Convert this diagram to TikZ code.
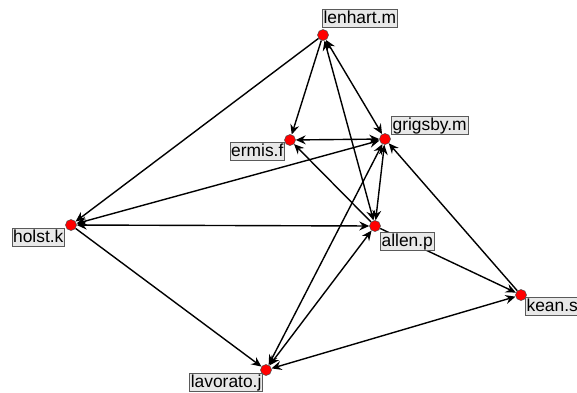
\documentclass[tikz,border=0pt]{standalone}
\usepackage{fontspec}
\setmainfont{Liberation Sans}
\usetikzlibrary{arrows.meta}
\definecolor{lblfill}{RGB}{232,232,232}
\definecolor{lbldraw}{RGB}{90,90,90}
\tikzset{
  dot/.style={circle, fill=red, draw=black!70, line width=0.5pt, inner sep=0pt, minimum size=11pt},
  lbl/.style={draw=lbldraw, fill=lblfill, line width=0.8pt, inner xsep=1.2pt, inner ysep=0.8pt,
    text height=12.8pt, text depth=3.6pt, font=\fontsize{17.4}{19}\selectfont},
  one/.style={line width=1.4pt, -{Stealth[length=10pt,width=9pt,inset=3.5pt]}},
  two/.style={line width=1.4pt, {Stealth[length=10pt,width=9pt,inset=3.5pt]}-{Stealth[length=10pt,width=9pt,inset=3.5pt]}}
}
\begin{document}
\begin{tikzpicture}[x=1pt,y=-1pt]
\useasboundingbox (0,0) rectangle (577,392);
\clip (0,0) rectangle (577,392);
\node[dot] (len) at (323,35) {};
\node[dot] (erm) at (290,140) {};
\node[dot] (gri) at (385,139) {};
\node[dot] (hol) at (71,225) {};
\node[dot] (all) at (375,226) {};
\node[dot] (kea) at (521,295) {};
\node[dot] (lav) at (266,370) {};
\draw[one] (len) -- (hol);
\draw[one] (len) -- (erm);
\draw[two] (len) -- (gri);
\draw[two] (len) -- (all);
\draw[two] (erm) -- (gri);
\draw[one] (all) -- (erm);
\draw[two] (hol) -- (gri);
\draw[two] (hol) -- (all);
\draw[one] (hol) -- (lav);
\draw[two] (gri) -- (all);
\draw[two] (gri) -- (lav);
\draw[two] (all) -- (lav);
\draw[one] (all) -- (kea);
\draw[one] (kea) -- (gri);
\draw[two] (kea) -- (lav);
\node[lbl, anchor=south west] (lenl) at (322,28) {lenhart.m};
\node[lbl, anchor=south west] (gril) at (391,135) {grigsby.m};
\node[lbl, anchor=north east] (erml) at (285,142) {ermis.f};
\node[lbl, anchor=north east] (holl) at (65,228) {holst.k};
\node[lbl, anchor=north west] (alll) at (380,232) {allen.p};
\node[lbl, anchor=north west] (keal) at (525,297) {kean.s};
\node[lbl, anchor=north east] (lavl) at (263,373) {lavorato.j};
\end{tikzpicture}
\end{document}
